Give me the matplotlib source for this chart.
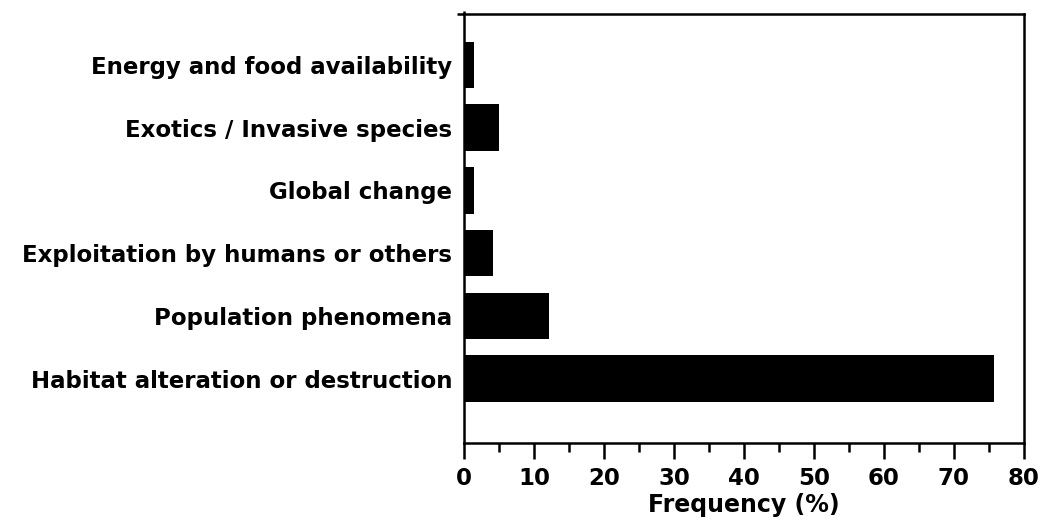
import matplotlib
matplotlib.use('Agg')
import matplotlib.pyplot as plt
import numpy as np
from matplotlib.ticker import MultipleLocator

# threat categories, listed top to bottom
categories = ['Energy and food availability',
              'Exotics / Invasive species',
              'Global change',
              'Exploitation by humans or others',
              'Population phenomena',
              'Habitat alteration or destruction']
frequency = [1.4, 5.0, 1.4, 4.2, 12.2, 75.7]  # %

plt.rcParams['font.family'] = ['DejaVu Sans']
plt.rcParams['font.weight'] = 'bold'

fig = plt.figure(figsize=(10.47, 5.23), dpi=100)
ax = fig.add_axes([0.4432, 0.1535, 0.5348, 0.8197])

pos = np.arange(len(categories))[::-1]
ax.barh(pos, frequency, height=0.74, color='black', edgecolor='none')

ax.set_xlim(0, 80)
ax.set_ylim(-1.02, 5.81)
ax.set_yticks(pos)
ax.set_yticklabels(categories, fontsize=16.5, fontweight='bold')
ax.tick_params(axis='y', length=0, pad=8.5)

ax.xaxis.set_major_locator(MultipleLocator(10))
ax.xaxis.set_minor_locator(MultipleLocator(5))
ax.tick_params(axis='x', which='major', direction='out', length=11.5, width=1.8,
               pad=6, labelsize=16.5)
ax.tick_params(axis='x', which='minor', direction='out', length=6.5, width=1.8)
for lbl in ax.get_xticklabels():
    lbl.set_fontweight('bold')
ax.set_xlabel('Frequency (%)', fontsize=17, fontweight='bold', labelpad=2)

for s in ax.spines.values():
    s.set_linewidth(1.8)

# small tick at the top-left corner
ax.plot([-0.0125, 0], [1, 1], transform=ax.transAxes, color='black',
        lw=1.8, clip_on=False, solid_capstyle='butt')
ax.plot([0, 0], [1, 1.006], transform=ax.transAxes, color='black',
        lw=1.8, clip_on=False, solid_capstyle='butt')

fig.savefig('out.png', dpi=100)
